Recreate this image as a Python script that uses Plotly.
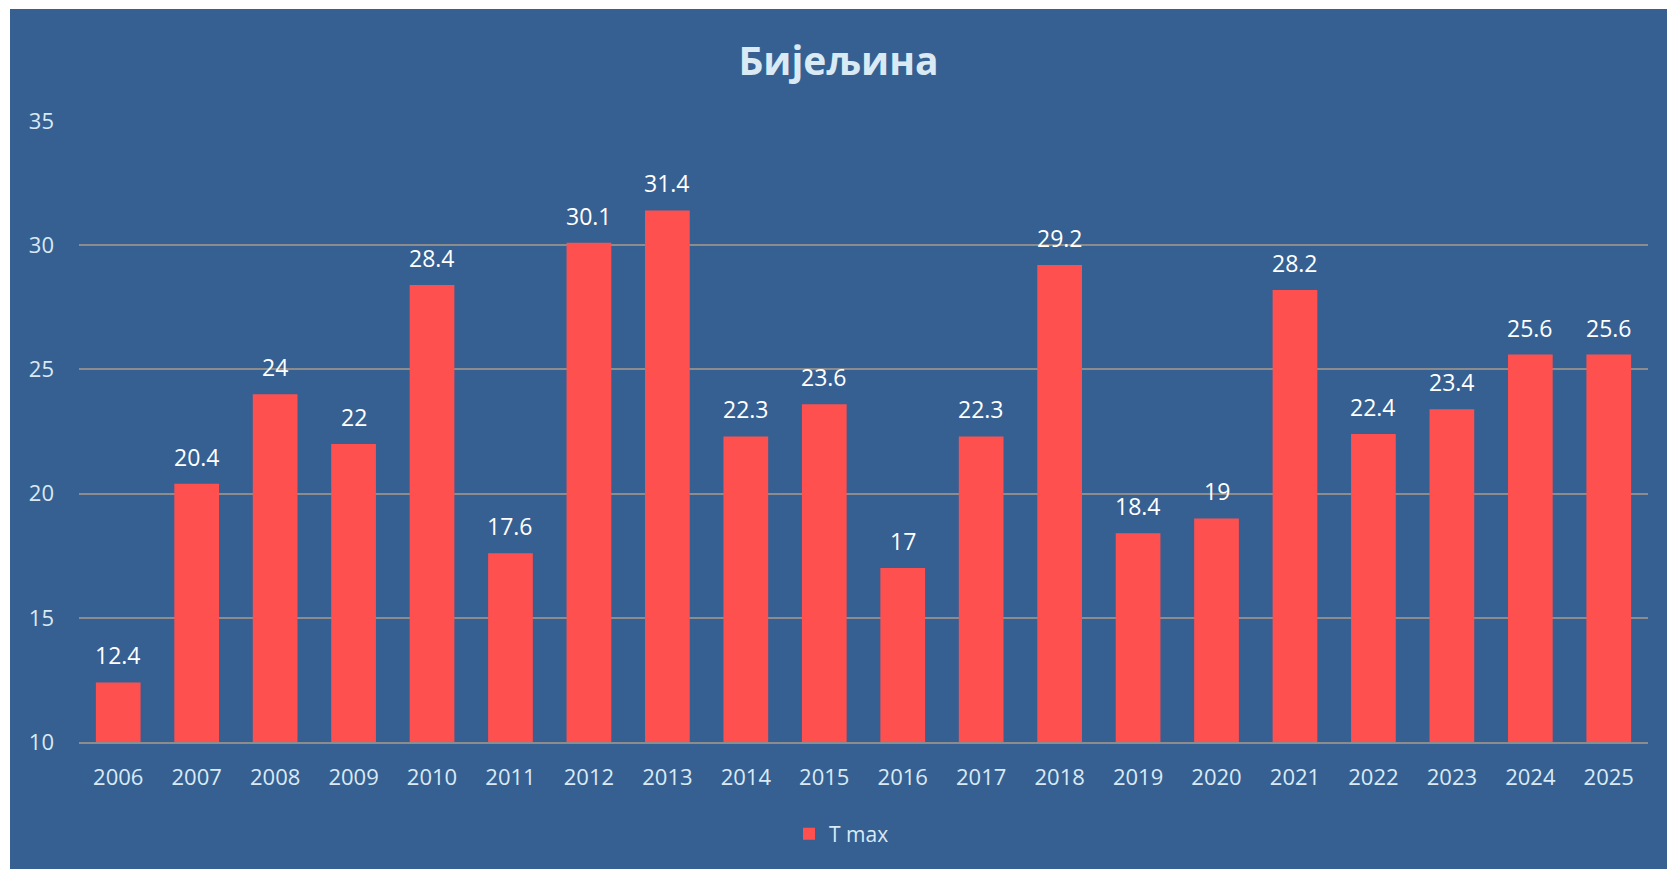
import plotly.graph_objects as go

# T max per year, Bijeljina
YEARS = ["2006", "2007", "2008", "2009", "2010", "2011", "2012", "2013", "2014", "2015",
         "2016", "2017", "2018", "2019", "2020", "2021", "2022", "2023", "2024", "2025"]
T_MAX = [12.4, 20.4, 24, 22, 28.4, 17.6, 30.1, 31.4, 22.3, 23.6,
         17, 22.3, 29.2, 18.4, 19, 28.2, 22.4, 23.4, 25.6, 25.6]

BG = "#366092"
BAR = "#FF5050"
LIGHT = "#D9EAF5"
GRID = "#8C8C8C"
FONT = "Open Sans"

fig = go.Figure()

fig.add_trace(go.Bar(
    x=YEARS, y=T_MAX,
    name="T max",
    marker=dict(color=BAR, line=dict(width=0)),
))

# value labels above bars (category index, since year strings look numeric)
for i, val in enumerate(T_MAX):
    fig.add_annotation(
        x=i, y=val, text=f"{val:g}", showarrow=False,
        yanchor="middle", yshift=27,
        font=dict(family=FONT, size=23, color="white"),
    )

fig.update_layout(
    width=1657, height=860,
    paper_bgcolor=BG, plot_bgcolor=BG,
    margin=dict(l=69, r=19, t=112, b=127),
    bargap=0.43,
    title=dict(
        text="<b>Бијељина</b>", x=0.5, xanchor="center", y=1 - 52 / 860, yanchor="middle",
        font=dict(family=FONT, size=39, color=LIGHT),
    ),
    showlegend=True,
    legend=dict(
        orientation="h", x=0.5 - 22 / 1569, xanchor="center", y=-(825 - 733) / 621, yanchor="middle",
        font=dict(family=FONT, size=21, color=LIGHT),
        bgcolor="rgba(0,0,0,0)",
    ),
    font=dict(family=FONT, color=LIGHT),
)

fig.update_yaxes(
    range=[10, 35], dtick=5, showgrid=True, gridcolor=GRID, gridwidth=1.5,
    zeroline=False, showline=False, ticks="", ticklabelstandoff=24,
    tickfont=dict(family=FONT, size=22, color=LIGHT),
)
fig.update_xaxes(
    type="category", range=[-0.5, len(YEARS) - 0.5],
    showgrid=False, showline=True, linecolor=GRID, linewidth=1.5, ticks="",
    ticklabelstandoff=15,
    tickfont=dict(family=FONT, size=22, color=LIGHT),
)

fig.write_html(
    "out.html",
    post_script="document.body.style.margin='9px 0 0 10px';document.body.style.overflow='hidden';",
)
